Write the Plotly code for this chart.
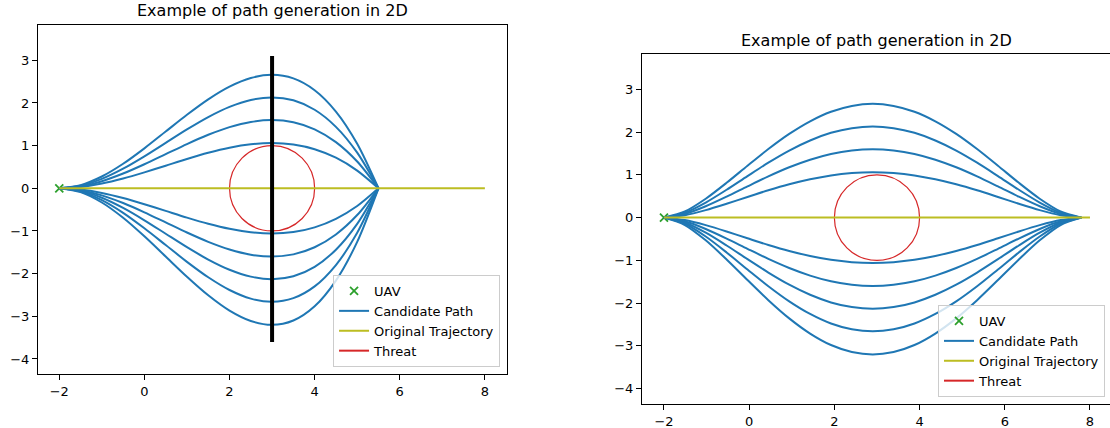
import plotly.graph_objects as go

# ---- data -----------------------------------------------------------------
uav_x = [-2.0]
uav_y = [0.0]

# peak offsets of the candidate paths (both panels)
path_peaks = [2.66, 2.13, 1.6, 1.06, -1.06, -1.6, -2.13, -2.66, -3.2]

# left panel: normalised path profile, start (-2, 0) -> merge point (5.5, 0)
left_x = [-2.0, -1.5, -1.0, -0.5, 0.0, 0.5, 1.0, 1.5, 2.0, 2.5, 3.0, 3.5, 4.0, 4.5, 5.0, 5.5]
left_profile = [0.0, 0.028, 0.104, 0.216, 0.352, 0.5, 0.648, 0.784, 0.896, 0.972, 1.0,
                0.968, 0.864, 0.676, 0.392, 0.0]

# right panel: normalised path profile, start (-2, 0) -> rejoin (7.8, 0)
right_x = [-2.0, -1.51, -1.02, -0.53, -0.04, 0.45, 0.94, 1.43, 1.92, 2.41, 2.9,
           3.39, 3.88, 4.37, 4.86, 5.35, 5.84, 6.33, 6.82, 7.31, 7.8]
right_profile = [0.0, 0.054, 0.166, 0.306, 0.456, 0.603, 0.736, 0.847, 0.931, 0.982, 1.0,
                 0.982, 0.931, 0.847, 0.736, 0.603, 0.456, 0.306, 0.166, 0.054, 0.0]

# original straight trajectory
traj_x = [-2.0, 8.0]
traj_y = [0.0, 0.0]

# threat: circle centre and radius
threat_cx, threat_cy, threat_r = 3.0, 0.0, 1.0

# vertical barrier in the left panel
wall_x = [3.0, 3.0]
wall_y = [-3.6, 3.1]

x_ticks = [-2, 0, 2, 4, 6, 8]
y_ticks = [-4, -3, -2, -1, 0, 1, 2, 3]

title_text = "Example of path generation in 2D"

# ---- styles ---------------------------------------------------------------
BLUE = "#1f77b4"
OLIVE = "#bcbd22"
RED = "#d62728"
GREEN = "#2ca02c"
FONT = "DejaVu Sans"

fig = go.Figure()


def add_panel(xa, ya, legend, prof_x, prof, show_wall):
    fig.add_trace(go.Scatter(
        x=uav_x, y=uav_y, mode="markers", name="UAV",
        marker=dict(symbol="x-thin", size=8, color=GREEN, line=dict(width=1.8, color=GREEN)),
        xaxis=xa, yaxis=ya, legend=legend, legendrank=1, hoverinfo="skip"))
    for i, h in enumerate(path_peaks):
        fig.add_trace(go.Scatter(
            x=prof_x, y=[h * p for p in prof], mode="lines", name="Candidate Path",
            line=dict(color=BLUE, width=2, shape="spline", smoothing=0.8),
            showlegend=(i == 0), legendgroup=legend + "paths",
            xaxis=xa, yaxis=ya, legend=legend, legendrank=2, hoverinfo="skip"))
    fig.add_trace(go.Scatter(
        x=traj_x, y=traj_y, mode="lines", name="Original Trajectory",
        line=dict(color=OLIVE, width=2),
        xaxis=xa, yaxis=ya, legend=legend, legendrank=3, hoverinfo="skip"))
    # legend entry for the threat circle (circle itself is a layout shape)
    fig.add_trace(go.Scatter(
        x=[None], y=[None], mode="lines", name="Threat",
        line=dict(color=RED, width=2),
        xaxis=xa, yaxis=ya, legend=legend, legendrank=4, hoverinfo="skip"))
    fig.add_shape(type="circle", xref=xa, yref=ya,
                  x0=threat_cx - threat_r, x1=threat_cx + threat_r,
                  y0=threat_cy - threat_r, y1=threat_cy + threat_r,
                  line=dict(color=RED, width=1.2), layer="between")
    if show_wall:
        fig.add_trace(go.Scatter(
            x=wall_x, y=wall_y, mode="lines", showlegend=False,
            line=dict(color="black", width=4),
            xaxis=xa, yaxis=ya, hoverinfo="skip"))


add_panel("x", "y", "legend", left_x, left_profile, True)
add_panel("x2", "y2", "legend2", right_x, right_profile, False)

axis_common = dict(
    showgrid=False, zeroline=False, showline=True, linecolor="black", linewidth=1,
    ticks="outside", ticklen=5, tickwidth=1, tickcolor="black",
    tickfont=dict(family=FONT, size=13, color="black"),
)

legend_common = dict(
    bgcolor="rgba(255,255,255,0.8)", bordercolor="#cccccc", borderwidth=1,
    font=dict(family=FONT, size=13, color="black"),
    xanchor="right", yanchor="bottom", tracegroupgap=0,
)

fig.update_layout(
    width=1110, height=428,
    margin=dict(l=0, r=0, t=0, b=0),
    paper_bgcolor="white", plot_bgcolor="white",
    font=dict(family=FONT, color="black"),
    xaxis=dict(domain=[0.03423, 0.45676], range=[-2.5, 8.52], tickvals=x_ticks,
               anchor="y", mirror=True, **axis_common),
    yaxis=dict(domain=[0.1262, 0.9416], range=[-4.352, 3.827], tickvals=y_ticks,
               anchor="x", mirror=True, **axis_common),
    xaxis2=dict(domain=[0.57838, 1.0], range=[-2.516, 8.47], tickvals=x_ticks,
                anchor="y2", mirror=True, **axis_common),
    yaxis2=dict(domain=[0.0561, 0.8738], range=[-4.358, 3.826], tickvals=y_ticks,
                anchor="x2", mirror=False, **axis_common),
    legend=dict(x=0.4505, y=0.1425, **legend_common),
    legend2=dict(x=0.9955, y=0.0724, **legend_common),
    annotations=[
        dict(text=title_text, xref="paper", yref="paper", x=0.2455, y=1 - 11 / 428,
             xanchor="center", yanchor="middle", showarrow=False,
             font=dict(family=FONT, size=16, color="black")),
        dict(text=title_text, xref="paper", yref="paper", x=0.7896, y=1 - 40 / 428,
             xanchor="center", yanchor="middle", showarrow=False,
             font=dict(family=FONT, size=16, color="black")),
    ],
)

fig.write_html("out.html")
